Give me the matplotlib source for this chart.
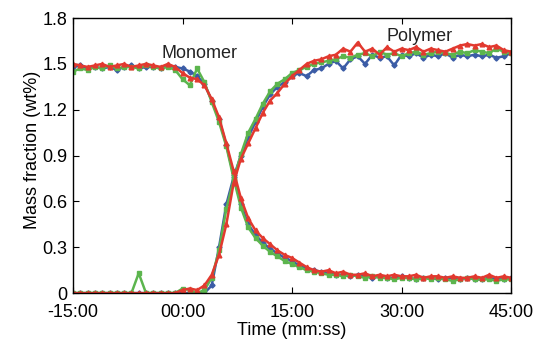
import numpy as np
import matplotlib
matplotlib.use('Agg')
import matplotlib.pyplot as plt
from matplotlib.ticker import FuncFormatter, FixedLocator

plt.rcParams['font.family'] = ['Liberation Sans', 'DejaVu Sans']

# Tempo (min), amostras de 1 em 1 minuto
t = list(range(-15, 46))

# Monomero ==========================================================
mono_azul = [1.48, 1.49, 1.47, 1.48, 1.47, 1.48, 1.46, 1.48, 1.49, 1.47, 1.48, 1.48, 1.47, 1.49, 1.48,
             1.47, 1.45, 1.42, 1.37, 1.26, 1.14, 0.97, 0.77, 0.58, 0.45, 0.38,
             0.33, 0.29, 0.26, 0.23, 0.21, 0.18, 0.16, 0.15, 0.14, 0.13,
             0.12, 0.12, 0.11, 0.12, 0.11, 0.10, 0.11, 0.10, 0.10, 0.11,
             0.10, 0.09, 0.10, 0.10, 0.09, 0.10, 0.10, 0.09, 0.10, 0.09,
             0.09, 0.10, 0.09, 0.09, 0.10]
mono_verde = [1.45, 1.47, 1.46, 1.48, 1.47, 1.49, 1.47, 1.48, 1.48, 1.47, 1.49, 1.48, 1.47, 1.48, 1.46,
              1.40, 1.36, 1.47, 1.38, 1.25, 1.12, 0.96, 0.75, 0.56, 0.43, 0.36,
              0.31, 0.27, 0.24, 0.21, 0.19, 0.17, 0.15, 0.14, 0.13, 0.12,
              0.12, 0.11, 0.12, 0.11, 0.10, 0.11, 0.10, 0.10, 0.09, 0.10,
              0.10, 0.09, 0.10, 0.09, 0.10, 0.09, 0.08, 0.09, 0.10, 0.09,
              0.09, 0.09, 0.08, 0.09, 0.09]
mono_verm = [1.50, 1.49, 1.48, 1.49, 1.50, 1.48, 1.49, 1.50, 1.48, 1.49, 1.50, 1.49, 1.48, 1.50, 1.48,
             1.44, 1.41, 1.40, 1.36, 1.27, 1.15, 0.98, 0.80, 0.62, 0.49, 0.41,
             0.36, 0.32, 0.28, 0.25, 0.23, 0.20, 0.17, 0.15, 0.14, 0.15,
             0.13, 0.14, 0.12, 0.12, 0.13, 0.11, 0.12, 0.11, 0.12, 0.11,
             0.11, 0.12, 0.10, 0.11, 0.11, 0.10, 0.11, 0.10, 0.10, 0.11,
             0.10, 0.12, 0.10, 0.11, 0.10]

# Polimero ==========================================================
poli_azul = [0, 0, 0, 0, 0, 0, 0, 0, 0, 0, 0, 0, 0, 0, 0,
             0, 0, 0, 0, 0.05, 0.30, 0.58, 0.76, 0.90, 1.02, 1.12,
             1.22, 1.30, 1.35, 1.38, 1.42, 1.44, 1.42, 1.46, 1.47, 1.50,
             1.52, 1.47, 1.53, 1.55, 1.50, 1.56, 1.54, 1.55, 1.49, 1.56,
             1.55, 1.57, 1.54, 1.56, 1.55, 1.57, 1.54, 1.56, 1.55, 1.56,
             1.55, 1.56, 1.54, 1.55, 1.57]
poli_verde = [0, 0, 0, 0, 0, 0, 0, 0, 0, 0.13, 0, 0, 0, 0, 0,
              0.03, 0.02, 0, 0.02, 0.10, 0.28, 0.55, 0.74, 0.91, 1.05, 1.14,
              1.24, 1.32, 1.37, 1.40, 1.44, 1.46, 1.48, 1.50, 1.51, 1.52,
              1.53, 1.55, 1.54, 1.56, 1.57, 1.55, 1.58, 1.56, 1.57, 1.55,
              1.57, 1.58, 1.56, 1.57, 1.58, 1.57, 1.56, 1.58, 1.57, 1.59,
              1.58, 1.57, 1.60, 1.58, 1.57]
poli_verm = [0, 0, 0, 0, 0, 0, 0, 0, 0, 0, 0, 0, 0, 0, 0,
             0.02, 0.03, 0.02, 0.05, 0.12, 0.25, 0.45, 0.72, 0.88, 0.98, 1.08,
             1.18, 1.26, 1.31, 1.37, 1.42, 1.46, 1.50, 1.52, 1.53, 1.55,
             1.56, 1.60, 1.58, 1.64, 1.58, 1.60, 1.56, 1.61, 1.58, 1.60,
             1.59, 1.61, 1.58, 1.60, 1.59, 1.58, 1.60, 1.62, 1.63, 1.62,
             1.63, 1.61, 1.62, 1.59, 1.58]

x_ticks = [-15, 0, 15, 30, 45]
y_ticks = [0, 0.3, 0.6, 0.9, 1.2, 1.5, 1.8]

cor_azul = '#3b5ca6'
cor_verde = '#5cb54e'
cor_verm = '#e2392f'
fs = 13

fig = plt.figure(figsize=(5.51, 3.54), dpi=100)
ax = fig.add_axes([0.1325, 0.172, 0.795, 0.777])

series = [(mono_azul, poli_azul, cor_azul, 'D', 2.6),
          (mono_verde, poli_verde, cor_verde, 's', 3.0),
          (mono_verm, poli_verm, cor_verm, '^', 3.4)]
for mono, poli, cor, mk, ms in series:
    for y in (mono, poli):
        ax.plot(t, y, color=cor, lw=1.8, marker=mk, ms=ms, mec=cor, mfc=cor)

ax.text(2.3, 1.565, 'Monomer', fontsize=fs, ha='center', va='center', color='#222222')
ax.text(32.5, 1.68, 'Polymer', fontsize=fs, ha='center', va='center', color='#222222')

ax.set_xlim(-15, 45)
ax.set_ylim(0, 1.8)
ax.xaxis.set_major_locator(FixedLocator(x_ticks))
ax.yaxis.set_major_locator(FixedLocator(y_ticks))


def fmt_tempo(v, pos):
    m = int(round(v))
    if m < 0:
        return '-%02d:00' % abs(m)
    return '%02d:00' % m


ax.xaxis.set_major_formatter(FuncFormatter(fmt_tempo))
ax.yaxis.set_major_formatter(FuncFormatter(lambda v, p: '0' if v == 0 else '%.1f' % v))
ax.tick_params(direction='in', top=True, right=True, length=4, width=0.8, labelsize=fs)
ax.tick_params(axis='x', pad=7.5)
ax.tick_params(axis='y', pad=4)
for s in ax.spines.values():
    s.set_linewidth(1.0)

ax.set_xlabel('Time (mm:ss)', fontsize=fs, labelpad=1)
ax.set_ylabel('Mass fraction (wt%)', fontsize=fs, labelpad=1)
ax.yaxis.set_label_coords(-0.072, 0.52)

plt.savefig('out.png', dpi=100)
